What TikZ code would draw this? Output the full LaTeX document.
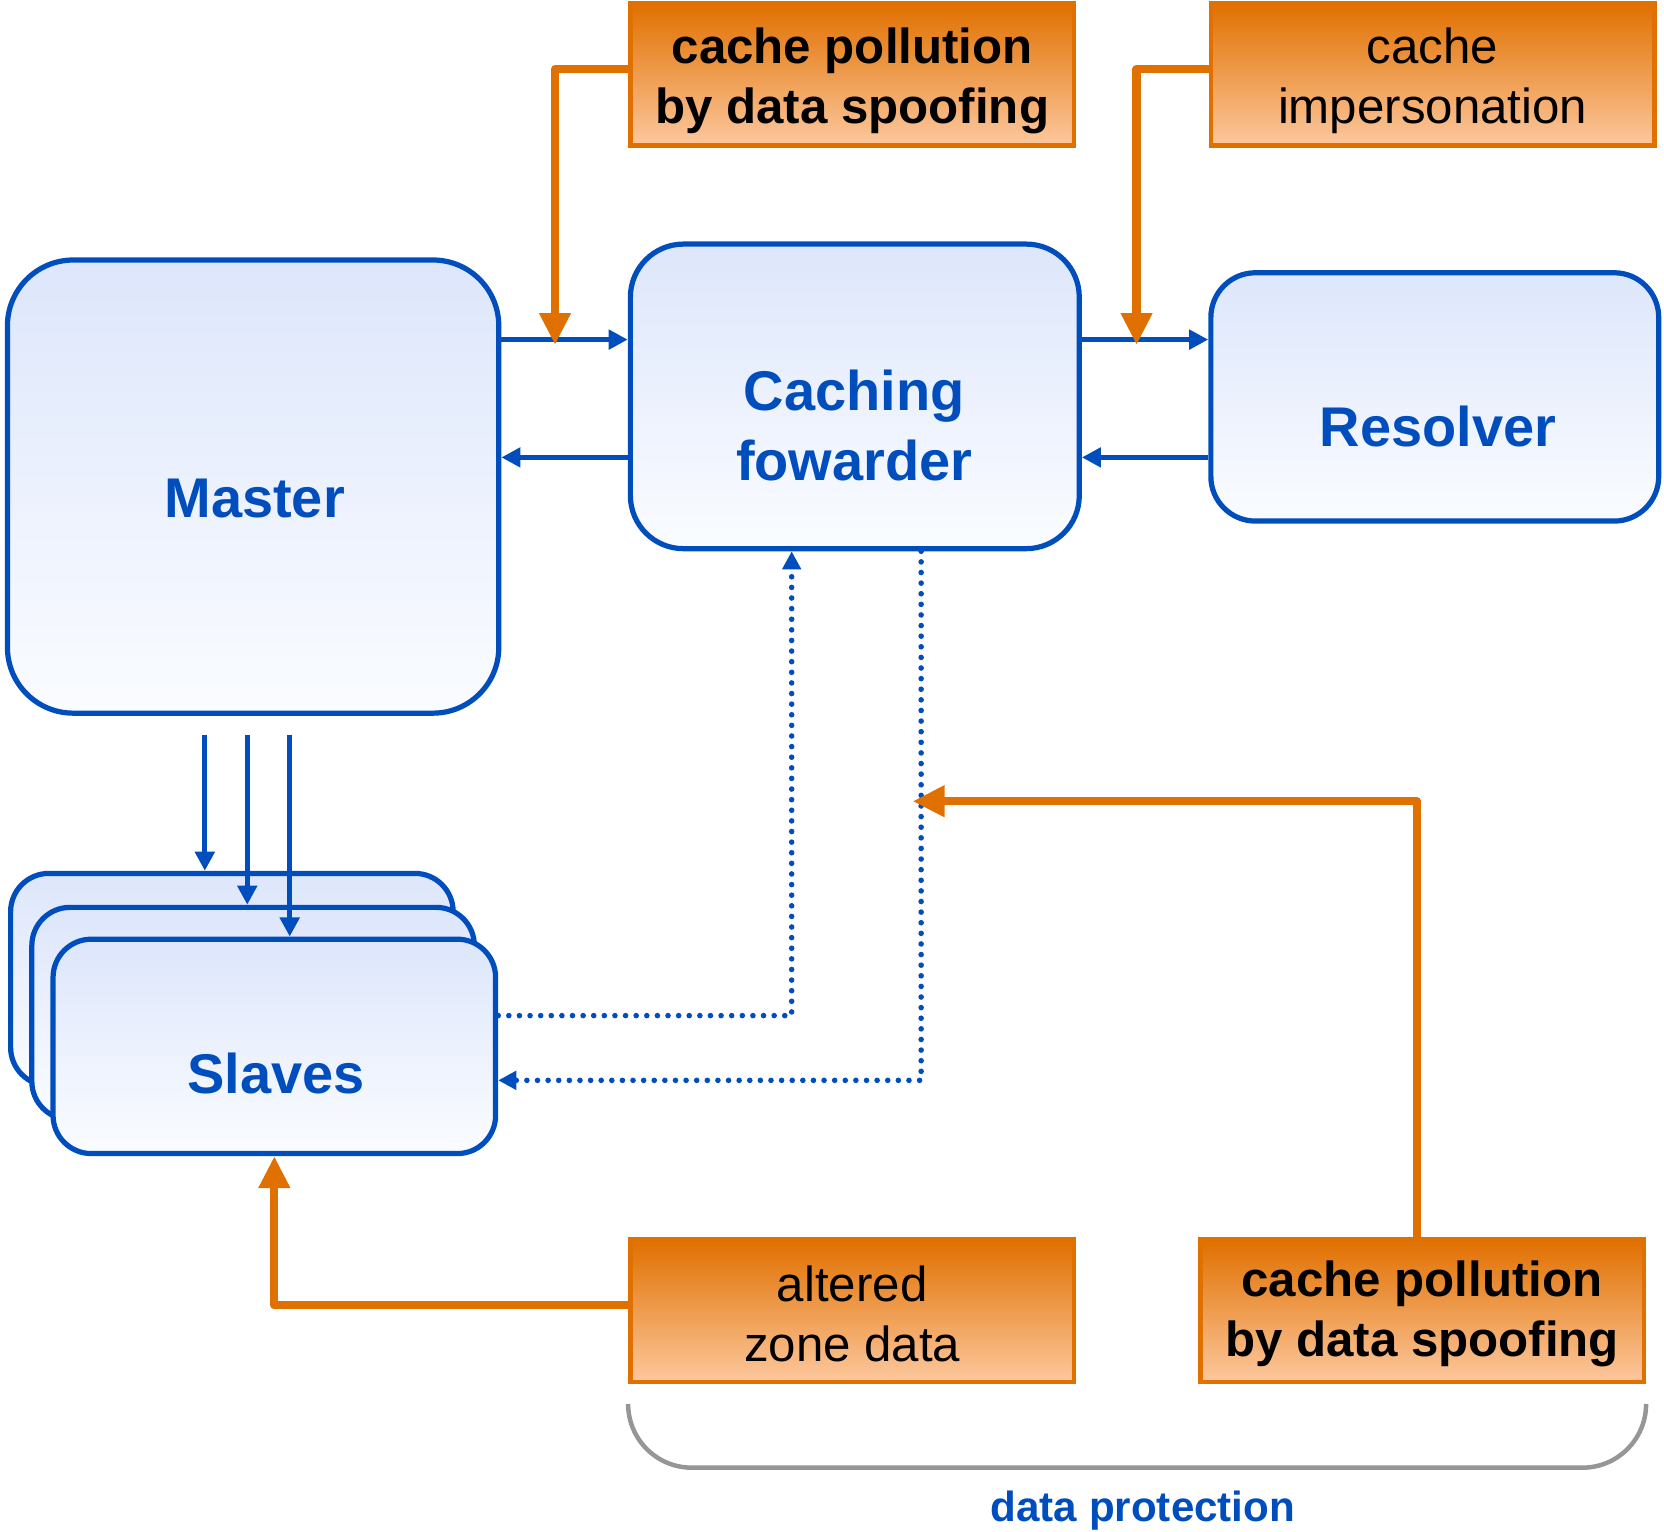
\documentclass[tikz,border=0pt]{standalone}
\usepackage{fontspec}
\setmainfont{Liberation Sans}
\usetikzlibrary{arrows.meta}

\definecolor{dnsblue}{RGB}{0,78,190}
\definecolor{boxtop}{RGB}{221,230,251}
\definecolor{boxbottom}{RGB}{250,252,255}
\definecolor{attackorange}{RGB}{224,112,0}
\definecolor{attacklight}{RGB}{253,200,158}
\definecolor{bracegray}{RGB}{150,150,150}

\tikzset{
  bluebox/.style={draw=dnsblue, line width=1.4pt, top color=boxtop, bottom color=boxbottom, inner sep=0pt},
  boxtext/.style={text=dnsblue, font=\fontsize{15}{19}\selectfont\bfseries, align=center},
  attackbox/.style={draw=attackorange, line width=1.2pt, top color=attackorange, bottom color=attacklight,
    minimum width=4.18cm, minimum height=1.34cm, inner sep=0pt},
  attacktext/.style={align=center, font=\fontsize{13.2}{16.2}\selectfont},
  flow/.style={draw=dnsblue, line width=1.3pt, -{Triangle[length=0.18cm,width=0.18cm]}},
  sync/.style={draw=dnsblue, line width=1.5pt, line cap=round, dash pattern=on 0pt off 0.1cm,
    -{Triangle[length=0.17cm,width=0.17cm]}},
  attack/.style={draw=attackorange, line width=2.2pt, line join=round, -{Triangle[length=0.3cm,width=0.28cm]}},
  brace/.style={draw=bracegray, line width=1.2pt, rounded corners=0.6cm},
}

\begin{document}
\begin{tikzpicture}
                    \useasboundingbox (0,0) rectangle (15.68,-14.43);

                    % Drawing box Master
                    \node [bluebox, minimum width=4.63cm, minimum height=4.27cm, rounded corners=0.62cm] (master) at (2.385,-4.585) {};%
                    \node [boxtext] (mastertext) at (2.40,-4.70) {Master};%

                    % Drawing box Caching fowarder
                    \node [bluebox, minimum width=4.23cm, minimum height=2.87cm, rounded corners=0.5cm] (caching) at (8.055,-3.735) {};%
                    \node [boxtext] (cachingtext) at (8.05,-4.01) {Caching\\fowarder};%

                    % Drawing box Resolver
                    \node [bluebox, minimum width=4.22cm, minimum height=2.34cm, rounded corners=0.42cm] (resolver) at (13.52,-3.74) {};%
                    \node [boxtext] (resolvertext) at (13.55,-4.02) {Resolver};%

                    % Drawing stack of Slaves
                    \node [bluebox, minimum width=4.17cm, minimum height=2.00cm, rounded corners=0.36cm] (slaveA) at (2.185,-9.23) {};%
                    \node [bluebox, minimum width=4.17cm, minimum height=2.00cm, rounded corners=0.36cm] (slaveB) at (2.385,-9.55) {};%
                    \node [bluebox, minimum width=4.17cm, minimum height=2.02cm, rounded corners=0.36cm] (slaves) at (2.585,-9.86) {};%
                    \node [boxtext] (slavestext) at (2.60,-10.12) {Slaves};%

                    % Drawing attack boxes
                    \node [attackbox] (top1) at (8.03,-0.70) {};%
                    \node [attacktext] (top1text) at (8.03,-0.76) {\bfseries cache pollution\\\bfseries by data spoofing};%
                    \node [attackbox] (top2) at (13.50,-0.70) {};%
                    \node [attacktext] (top2text) at (13.50,-0.76) {cache\\impersonation};%
                    \node [attackbox] (bot1) at (8.03,-12.35) {};%
                    \node [attacktext] (bot1text) at (8.03,-12.38) {altered\\zone data};%
                    \node [attackbox] (bot2) at (13.40,-12.35) {};%
                    \node [attacktext] (bot2text) at (13.40,-12.38) {\bfseries cache pollution\\\bfseries by data spoofing};%

                    % Drawing queries and answers
                    \draw [flow] (master.east |- 0,-3.20) -- (caching.west |- 0,-3.20);%
                    \draw [flow] (caching.west |- 0,-4.31) -- (master.east |- 0,-4.31);%
                    \draw [flow] (caching.east |- 0,-3.20) -- (resolver.west |- 0,-3.20);%
                    \draw [flow] (resolver.west |- 0,-4.31) -- (caching.east |- 0,-4.31);%

                    % Drawing zone transfers Master -> Slaves
                    \draw [flow, shorten <=0.18cm] (master.south -| 1.93,0) -- (slaveA.north -| 1.93,0);%
                    \draw [flow, shorten <=0.18cm] (master.south -| 2.33,0) -- (slaveB.north -| 2.33,0);%
                    \draw [flow, shorten <=0.18cm] (master.south -| 2.73,0) -- (slaves.north -| 2.73,0);%

                    % Drawing dotted links Slaves <-> Caching fowarder
                    \draw [sync] (slaves.east |- 0,-9.57) -| (caching.south -| 7.46,0);%
                    \draw [sync] (caching.south -| 8.68,0) |- (slaves.east |- 0,-10.18);%

                    % Drawing attack arrows
                    \coordinate (hitA) at (5.23,-3.25);%
                    \coordinate (hitB) at (10.71,-3.25);%
                    \coordinate (hitC) at (8.60,-7.55);%
                    \draw [attack] (top1.west |- 0,-0.65) -| (hitA);%
                    \draw [attack] (top2.west |- 0,-0.65) -| (hitB);%
                    \draw [attack] (bot2.north -| 13.35,0) |- (hitC);%
                    \draw [attack] (bot1.west |- 0,-12.30) -| (slaves.south);%

                    % Drawing brace data protection
                    \draw [brace] ([yshift=-0.2cm]bot1.south west) |- (10.70,-13.83) -| ([yshift=-0.2cm]bot2.south east);%
                    \node [text=dnsblue, font=\fontsize{11.3}{13}\selectfont\bfseries] (protection) at (10.77,-14.23) {data protection};%
\end{tikzpicture}
\end{document}
